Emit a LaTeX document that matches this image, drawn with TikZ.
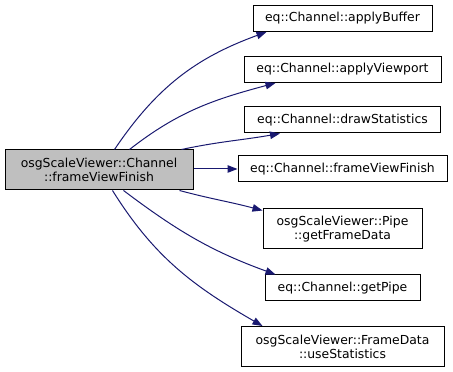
\documentclass[tikz,border=0pt]{standalone}
\usepackage{fontspec}
\setmainfont{DejaVu Sans}
\usetikzlibrary{arrows.meta}
\definecolor{edgeblue}{HTML}{191970}
\definecolor{boxgray}{HTML}{BFBFBF}
\begin{document}
\begin{tikzpicture}[x=1pt,y=1pt,
  fn/.style={draw=black,line width=1pt,rectangle,inner sep=0pt,align=center,
    font=\fontsize{12.4}{14}\selectfont},
  call/.style={draw=edgeblue,line width=1pt,
    -{Triangle[length=10pt,width=7.5pt]},shorten >=0pt}]
\useasboundingbox (0,0) rectangle (453,372);

% caller
\node[fn,fill=boxgray,minimum width=188,minimum height=40] (main) at (99,202)
  {osgScaleViewer::Channel\\::frameViewFinish};

% callees
\node[fn,minimum width=179,minimum height=26] (applyBuffer) at (342.5,353.5)
  {eq::Channel::applyBuffer};
\node[fn,minimum width=197,minimum height=26] (applyViewport) at (342.5,302.5)
  {eq::Channel::applyViewport};
\node[fn,minimum width=196,minimum height=26] (drawStatistics) at (342.5,252)
  {eq::Channel::drawStatistics};
\node[fn,minimum width=209,minimum height=26] (frameViewFinish) at (342.5,203)
  {eq::Channel::frameViewFinish};
\node[fn,minimum width=159,minimum height=40] (getFrameData) at (342.5,143)
  {osgScaleViewer::Pipe\\::getFrameData};
\node[fn,minimum width=155,minimum height=26] (getPipe) at (342.5,84)
  {eq::Channel::getPipe};
\node[fn,minimum width=203,minimum height=40] (useStatistics) at (342.5,25.5)
  {osgScaleViewer::FrameData\\::useStatistics};

% call edges
\draw[call] ([xshift=110pt]main.north west) to[out=56,in=200]
  ([xshift=14pt]applyBuffer.south west);
\draw[call] ([xshift=125pt]main.north west) to[out=38,in=195]
  ([xshift=32pt]applyViewport.south west);
\draw[call] ([xshift=177pt]main.north west) to[out=12,in=190]
  ([xshift=36pt]drawStatistics.south west);
\draw[call] (main.east |- frameViewFinish.west) -- (frameViewFinish.west);
\draw[call] ([xshift=175pt]main.south west) to[out=-15,in=165]
  ([yshift=-2pt]getFrameData.north west);
\draw[call] ([xshift=119pt]main.south west) to[out=-37,in=160]
  ([xshift=11pt]getPipe.north west);
\draw[call] ([xshift=108pt]main.south west) to[out=-58,in=150]
  ([xshift=22pt]useStatistics.north west);
\end{tikzpicture}
\end{document}
